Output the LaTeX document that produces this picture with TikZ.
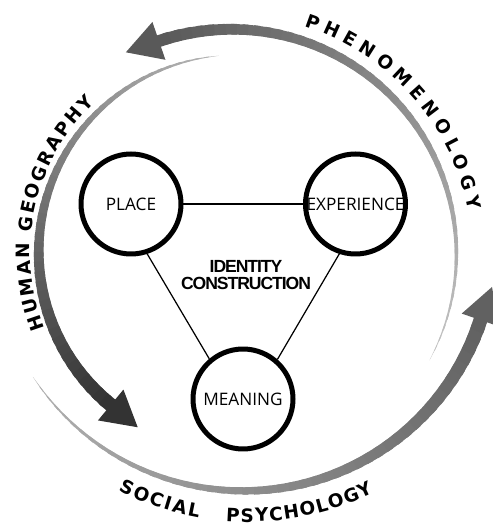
\documentclass[tikz,border=0pt]{standalone}
\usepackage{fontspec}
\setmainfont{Open Sans}
\newfontfamily\curvefont{DejaVu Sans}
\newfontfamily\corefont[LetterSpace=-6]{Liberation Sans}
\usetikzlibrary{decorations.text}

% tapered arrow turning anticlockwise round a centre:
% #1 centre, #2/#3 tail and head angle, #4/#5 tail and head radius,
% #6 full width, #7/#8 tail and head grey
\newcommand{\turnarrow}[8]{%
  \begin{scope}[shift={#1}]
    \foreach \i in {1,...,48}{
      \pgfmathsetmacro{\tA}{(\i-1)/48}
      \pgfmathsetmacro{\tB}{(\i+0.5)/48}
      \pgfmathsetmacro{\angA}{#2+(#3-#2)*\tA}
      \pgfmathsetmacro{\angB}{#2+(#3-#2)*\tB}
      \pgfmathsetmacro{\radA}{#4+(#5-#4)*\tA}
      \pgfmathsetmacro{\radB}{#4+(#5-#4)*\tB}
      \pgfmathsetmacro{\wdA}{#6*pow(max(\tA,0.001),0.8)/2}
      \pgfmathsetmacro{\wdB}{#6*pow(\tB,0.8)/2}
      \pgfmathsetmacro{\grey}{#7+(#8-#7)*\i/48}
      \fill[black!\grey] (\angA:{\radA+\wdA}) -- (\angB:{\radB+\wdB})
        -- (\angB:{\radB-\wdB}) -- (\angA:{\radA-\wdA}) -- cycle;
    }
    % head
    \fill[black!#8] (#3:{#5+20}) -- ({#3+atan(35/#5)}:{veclen(#5,35)})
      -- (#3:{#5-20}) -- cycle;
  \end{scope}}

\begin{document}
\begin{tikzpicture}[x=0.02cm, y=0.02cm,
  ring/.style={circle, draw, line width=2.85pt, minimum size=2cm, inner sep=0pt,
    font=\fontsize{9.8}{11}\selectfont},
  link/.style={line width=0.7pt},
  curve label/.style={decorate, decoration={text along path, text align=fit to path,
    text={|\curvefont\bfseries\fontsize{10.5}{12}\selectfont|#1}}}]
\useasboundingbox (0,0) rectangle (493,524);
\clip (0,0) rectangle (493,524);

% the three turning arrows
\turnarrow{(233,268)}{-28}{109}{222.5}{227.5}{12}{22}{65}
\turnarrow{(236,271)}{95}{230.5}{198}{197}{14}{28}{80}
\turnarrow{(248,284)}{212.5}{341}{255}{246}{14}{30}{62}

% labels bent round them
\path[curve label=PHENOMENOLOGY, shift={(233,268)}] plot[domain=72.8:10.9, samples=40] (\x:240);
\path[curve label=HUMAN GEOGRAPHY, shift={(236,271)}] plot[domain=201.5:133.3, samples=40] (\x:206);
\path[curve label=SOCIAL, shift={(248,284)}] plot[domain=242.6:259.9, samples=20] (\x:282);
\path[curve label=PSYCHOLOGY, shift={(248,284)}] plot[domain=265.5:296.5, samples=30] (\x:282);

% triangle in the middle
\node[ring] (place) at (131,320) {PLACE};
\node[ring] (experience) at (355.5,320) {EXPERIENCE};
\node[ring] (meaning) at (243,125) {MEANING};
\node[align=center, font=\corefont\bfseries\fontsize{10}{9.7}\selectfont] (identity) at (246,249) {IDENTITY\\CONSTRUCTION};
\draw[link] (place) -- (experience);
\draw[link] (place.-72.6) -- (meaning.130.6);
\draw[link] (experience.-108.3) -- (meaning.49.4);
\end{tikzpicture}
\end{document}
